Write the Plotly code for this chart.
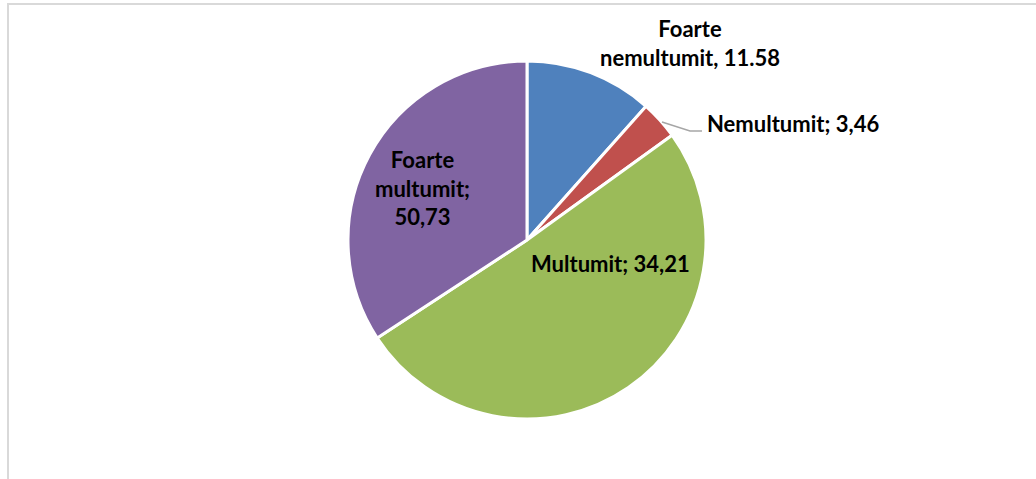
import plotly.graph_objects as go

categories = ["Foarte nemultumit", "Nemultumit", "Multumit", "Foarte multumit"]
slice_values = [11.58, 3.46, 50.73, 34.21]
label_texts = ["Foarte<br>nemultumit, 11.58", "Nemultumit; 3,46",
               "Multumit; 34,21", "Foarte<br>multumit;<br>50,73"]
colors = ["#4F81BD", "#C0504D", "#9BBB59", "#8064A2"]

W, H = 1036, 479
cx, cy, r = 527, 240, 179

fig = go.Figure(go.Pie(
    labels=categories, values=slice_values, sort=False, direction="clockwise",
    rotation=0, textinfo="none", hoverinfo="label+value",
    marker=dict(colors=colors, line=dict(color="white", width=3)),
    domain=dict(x=[(cx - r) / W, (cx + r) / W], y=[1 - (cy + r) / H, 1 - (cy - r) / H]),
    showlegend=False,
))

font = dict(family="Lato, Carlito, Calibri, sans-serif", size=22, color="black")
label_pos = [(690, 43), (793, 124), (610, 263), (422, 188)]
for txt, (px, py) in zip(label_texts, label_pos):
    fig.add_annotation(x=px / W, y=1 - py / H, xref="paper", yref="paper",
                       text="<b>" + txt + "</b>", showarrow=False, font=font,
                       align="center", xanchor="center", yanchor="middle")

# leader line for small slice
fig.add_shape(type="path", xref="paper", yref="paper",
              path=f"M {662/W},{1-122/H} L {690/W},{1-131/H} L {702/W},{1-131/H}",
              line=dict(color="#A6A6A6", width=1.5))

# chart area border
fig.add_shape(type="rect", xref="paper", yref="paper",
              x0=8 / W, x1=1.02, y0=-0.02, y1=1 - 4 / H,
              line=dict(color="#D9D9D9", width=2))

fig.update_layout(width=W, height=H, margin=dict(l=0, r=0, t=0, b=0),
                  paper_bgcolor="white", plot_bgcolor="white")
fig.write_html("out.html", config={"displayModeBar": False},
               post_script="document.body.style.margin='0';")
